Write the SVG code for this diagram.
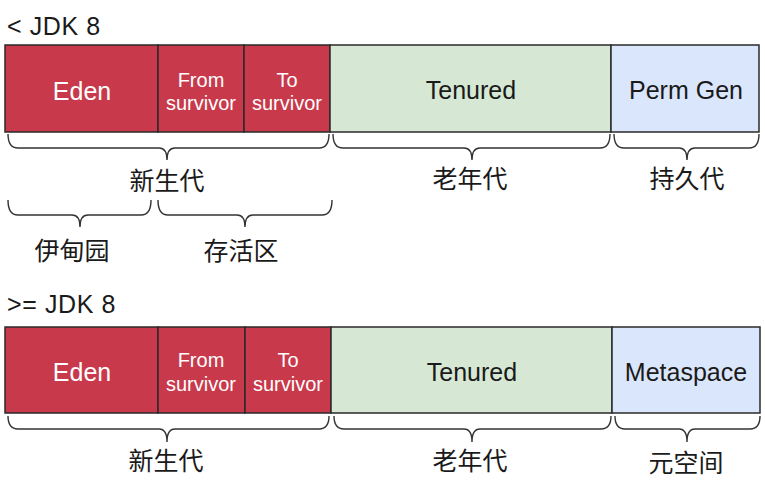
<svg xmlns="http://www.w3.org/2000/svg" width="765" height="480" viewBox="0 0 765 480">
<style>
.red{fill:#c8394b;stroke:#2a2a2a;stroke-width:1.5}
.green{fill:#d6e8d4;stroke:#2a2a2a;stroke-width:1.5}
.blue{fill:#dae6fb;stroke:#2a2a2a;stroke-width:1.5}
.t{font-family:"Liberation Sans",Arial,"Noto Sans CJK SC",sans-serif;text-anchor:middle}
.w{fill:#ffffff}
.k{fill:#1a1a1a}
.big{font-size:25px}
.sm{font-size:20px}
.title{font-family:"Liberation Sans",Arial,sans-serif;font-size:25px;fill:#1a1a1a;letter-spacing:0.6px}
.cjk{font-family:"Noto Sans CJK SC","Liberation Sans",sans-serif;font-size:25px;fill:#1a1a1a;text-anchor:middle}
.brace{fill:none;stroke:#333333;stroke-width:1.4}
</style>
<rect width="765" height="480" fill="#ffffff"/>

<text class="title" x="7" y="35">&lt; JDK 8</text>
<text class="title" x="7" y="313">&gt;= JDK 8</text>

<!-- Row 1 -->
<g id="eden1"><rect class="red" x="5" y="45" width="153" height="87"/><text class="t w big" x="82" y="100">Eden</text></g>
<g id="from1"><rect class="red" x="158" y="45" width="86" height="87"/><text class="t w sm" x="201" y="87">From</text><text class="t w sm" x="201" y="110">survivor</text></g>
<g id="to1"><rect class="red" x="244" y="45" width="86" height="87"/><text class="t w sm" x="287" y="87">To</text><text class="t w sm" x="287" y="110">survivor</text></g>
<g id="tenured1"><rect class="green" x="330" y="45" width="281" height="87"/><text class="t k big" x="471" y="99">Tenured</text></g>
<g id="perm1"><rect class="blue" x="611" y="45" width="148" height="87"/><text class="t k big" x="686" y="99">Perm Gen</text></g>

<!-- Row 2 -->
<g id="eden2"><rect class="red" x="5" y="327" width="153" height="86"/><text class="t w big" x="82" y="381">Eden</text></g>
<g id="from2"><rect class="red" x="158" y="327" width="87" height="86"/><text class="t w sm" x="201" y="367">From</text><text class="t w sm" x="201" y="391">survivor</text></g>
<g id="to2"><rect class="red" x="245" y="327" width="86" height="86"/><text class="t w sm" x="288" y="367">To</text><text class="t w sm" x="288" y="391">survivor</text></g>
<g id="tenured2"><rect class="green" x="331" y="327" width="281" height="86"/><text class="t k big" x="472" y="381">Tenured</text></g>
<g id="meta2"><rect class="blue" x="612" y="327" width="148" height="86"/><text class="t k big" x="686" y="381">Metaspace</text></g>

<g id="connectors">
<path class="brace" d="M8 134 Q8 148 18 148 L159 148 Q167 148 167 160 Q167 148 175 148 L319 148 Q329 148 329 134"/>
<path class="brace" d="M333 134 Q333 148 343 148 L464 148 Q472 148 472 160 Q472 148 480 148 L600 148 Q610 148 610 134"/>
<path class="brace" d="M614 134 Q614 148 624 148 L679 148 Q687 148 687 160 Q687 148 695 148 L749 148 Q759 148 759 134"/>
<path class="brace" d="M8 200 Q8 215 18 215 L72 215 Q80 215 80 227 Q80 215 88 215 L141 215 Q151 215 151 200"/>
<path class="brace" d="M158 200 Q158 215 168 215 L237 215 Q245 215 245 227 Q245 215 253 215 L322 215 Q332 215 332 200"/>
<path class="brace" d="M8 416 Q8 429 18 429 L159 429 Q167 429 167 442 Q167 429 175 429 L319 429 Q329 429 329 416"/>
<path class="brace" d="M334 416 Q334 429 344 429 L464 429 Q472 429 472 442 Q472 429 480 429 L601 429 Q611 429 611 416"/>
<path class="brace" d="M615 416 Q615 429 625 429 L679 429 Q687 429 687 442 Q687 429 695 429 L750 429 Q760 429 760 416"/>
</g>

<g id="labels">
<text class="cjk" x="167" y="190">新生代</text>
<text class="cjk" x="470" y="188">老年代</text>
<text class="cjk" x="687" y="188">持久代</text>
<text class="cjk" x="72" y="260">伊甸园</text>
<text class="cjk" x="241" y="260">存活区</text>
<text class="cjk" x="166" y="470">新生代</text>
<text class="cjk" x="470" y="470">老年代</text>
<text class="cjk" x="686" y="472">元空间</text>
</g>
</svg>
